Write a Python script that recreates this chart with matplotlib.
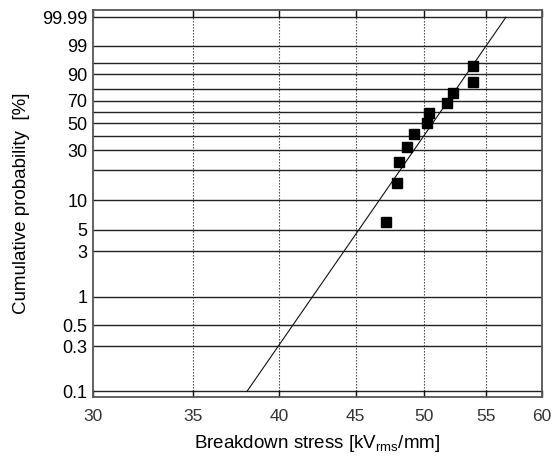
import numpy as np
import matplotlib
matplotlib.use('Agg')
import matplotlib.pyplot as plt
from matplotlib.ticker import FixedLocator, NullLocator

plt.rcParams['font.family'] = ['Liberation Sans', 'DejaVu Sans']

# breakdown values (kV/mm) and their median-rank probabilities (%)
stress = [47.13, 47.94, 48.11, 48.70, 49.25, 50.25, 50.39, 51.80, 52.31, 53.93, 53.93]
prob = [6.1, 14.9, 23.7, 32.5, 41.2, 50.0, 58.8, 67.5, 76.3, 85.1, 93.9]

# weibull fit (shape, scale)
beta = 22.84
alpha = 51.49
fit_p_range = [0.1, 99.99]

grid_p = [0.1, 0.3, 0.5, 1, 3, 5, 10, 20, 30, 40, 50, 60, 70, 80, 90, 95, 99, 99.99]
label_p = [0.1, 0.3, 0.5, 1, 3, 5, 10, 30, 50, 70, 90, 99, 99.99]
x_ticks = [30, 35, 40, 45, 50, 55, 60]


def weibull_fwd(p):
    p = np.clip(np.asarray(p, dtype=float), 1e-9, 100 - 1e-9)
    return np.log(-np.log(1 - p / 100.0))


def weibull_inv(y):
    return 100.0 * (1 - np.exp(-np.exp(y)))


fig = plt.figure(figsize=(5.52, 4.57), dpi=100)
ax = fig.add_axes([0.1685, 0.132, 0.8134, 0.846])

ax.set_xscale('log')
ax.set_yscale('function', functions=(weibull_fwd, weibull_inv))
ax.set_xlim(30, 60)
ax.set_ylim(0.0877, 99.9983)

# probability grid
for p in grid_p:
    ax.axhline(p, color='#222222', lw=1.0, zorder=1)
for x in x_ticks[1:-1]:
    ax.axvline(x, color='#333333', lw=0.8, ls=(0, (1.2, 1.5)), zorder=1)

# fitted line
p_lo, p_hi = fit_p_range
x_lo = alpha * (-np.log(1 - p_lo / 100)) ** (1 / beta)
x_hi = alpha * (-np.log(1 - p_hi / 100)) ** (1 / beta)
xf = np.linspace(x_lo, x_hi, 200)
pf = 100 * (1 - np.exp(-(xf / alpha) ** beta))
ax.plot(xf, pf, color='#111111', lw=0.8, zorder=2)

ax.plot(stress, prob, 's', color='black', ms=6.5, zorder=3)

ax.xaxis.set_major_locator(FixedLocator(x_ticks))
ax.xaxis.set_minor_locator(NullLocator())
ax.set_xticklabels([str(v) for v in x_ticks])
ax.yaxis.set_major_locator(FixedLocator(label_p))
ax.yaxis.set_minor_locator(NullLocator())
ax.set_yticklabels([f'{p:g}' for p in label_p])

ax.tick_params(axis='x', direction='in', length=5, width=1, top=True,
               pad=9, labelsize=12.5, labelcolor='#333333', color='#111111')
ax.tick_params(axis='y', length=0, pad=4, labelsize=13)

for s in ax.spines.values():
    s.set_color('#555555')
    s.set_linewidth(1.3)

ax.set_xlabel('Breakdown stress [kV$_{\\mathregular{rms}}$/mm]', fontsize=13.5, labelpad=6)
ax.set_ylabel('Cumulative probability  [%]', fontsize=13.5, labelpad=9)

fig.savefig('out.png', dpi=100)
